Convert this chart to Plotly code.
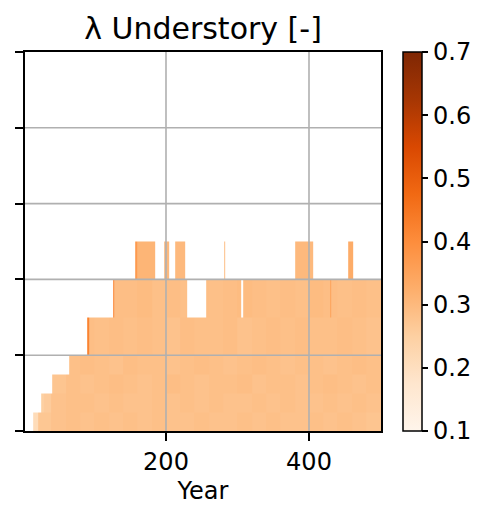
import numpy as np
import plotly.graph_objects as go

# ---------------- data ----------------
YEAR_START, YEAR_END = 3, 501            # year columns [YEAR_START, YEAR_END)
ROW_EDGES = [0, 1, 2, 3, 4, 6, 8, 10]    # layer edges (y units)
ROW_START_YEAR = [14, 26, 41, 64, 90, 126]
BLOCK_YEARS = 20
N = None
ROW_BLOCK_VALUES = [
    [0.21, 0.27, 0.28, 0.285, 0.28, 0.285, 0.28, 0.285, 0.28, 0.285, 0.28, 0.28, 0.285,
     0.28, 0.28, 0.285, 0.28, 0.285, 0.28, 0.28, 0.285, 0.28, 0.285, 0.28, 0.275],
    [N, 0.26, 0.28, 0.285, 0.285, 0.28, 0.285, 0.28, 0.28, 0.285, 0.28, 0.285, 0.28,
     0.285, 0.28, 0.28, 0.285, 0.28, 0.285, 0.28, 0.28, 0.285, 0.28, 0.285, 0.28],
    [N, N, 0.275, 0.285, 0.28, 0.285, 0.29, 0.285, 0.28, 0.285, 0.29, 0.285, 0.28,
     0.285, 0.285, 0.29, 0.28, 0.285, 0.285, 0.28, 0.285, 0.29, 0.285, 0.28, 0.285],
    [N, N, N, 0.285, 0.29, 0.285, 0.28, 0.29, 0.285, 0.285, 0.28, 0.285, 0.29,
     0.285, 0.28, 0.285, 0.29, 0.285, 0.28, 0.285, 0.285, 0.28, 0.285, 0.29, 0.285],
    [N, N, N, N, 0.29, 0.285, 0.29, 0.285, 0.29, 0.285, 0.28, 0.29, 0.285,
     0.285, 0.29, 0.28, 0.285, 0.29, 0.285, 0.29, 0.285, 0.285, 0.29, 0.285, 0.28],
    [N, N, N, N, N, N, 0.29, 0.29, 0.295, 0.285, 0.29, 0.285, 0.29,
     0.285, 0.29, 0.295, 0.29, 0.285, 0.29, 0.285, 0.295, 0.29, 0.285, 0.29, 0.285],
]
# (row, first year, last year exclusive, value)
ACCENTS = [(4, 90, 92, 0.42), (5, 126, 128, 0.42), (5, 429, 431, 0.35),
           (0, 14, 21, 0.21), (1, 26, 29, 0.25)]
TOP_ROW = 6
TOP_SEGMENTS = [(157, 160, 0.37), (160, 185, 0.31), (198, 205, 0.30), (213, 227, 0.30),
                (281, 283, 0.29), (380, 406, 0.30), (455, 462, 0.33)]
GAP_ROW = 5
GAPS = [(230, 256), (305, 308)]

X_TICKS = [200, 400]
Y_TICKS = [0, 4, 8, 12, 16, 20]
CBAR_TICKS = [0.1, 0.2, 0.3, 0.4, 0.5, 0.6, 0.7]

# ---------------- build grid ----------------
years = list(range(YEAR_START, YEAR_END + 1))
z = np.full((len(ROW_EDGES) - 1, YEAR_END - YEAR_START), np.nan)
for r, start in enumerate(ROW_START_YEAR):
    for yr in range(max(start, YEAR_START), YEAR_END):
        v = ROW_BLOCK_VALUES[r][min(yr // BLOCK_YEARS, len(ROW_BLOCK_VALUES[r]) - 1)]
        if v is not None:
            z[r, yr - YEAR_START] = v
for r, a, b, v in ACCENTS:
    z[r, a - YEAR_START:b - YEAR_START] = v
for a, b, v in TOP_SEGMENTS:
    z[TOP_ROW, a - YEAR_START:b - YEAR_START] = v
for a, b in GAPS:
    z[GAP_ROW, a - YEAR_START:b - YEAR_START] = np.nan

FONT = "DejaVu Sans"
fig = go.Figure(go.Heatmap(
    x=years, y=ROW_EDGES, z=z,
    colorscale="Oranges", zmin=0.1, zmax=0.7,
    hoverongaps=False,
    colorbar=dict(
        thickness=19, thicknessmode="pixels",
        len=1.0, lenmode="fraction", y=0.5, yanchor="middle",
        x=1.062, xanchor="left", xpad=0, ypad=0,
        outlinecolor="black", outlinewidth=1.5,
        tickvals=CBAR_TICKS, ticktext=[f"{t:.1f}" for t in CBAR_TICKS],
        ticks="outside", ticklen=6, tickwidth=1.5, tickcolor="black",
        tickfont=dict(family=FONT, size=24, color="black"),
    ),
))

shapes = []
for xv in X_TICKS:
    shapes.append(dict(type="line", xref="x", yref="paper", x0=xv, x1=xv, y0=0, y1=1,
                       line=dict(color="#b0b0b0", width=1.6), layer="above"))
for yv in Y_TICKS[1:-1]:
    shapes.append(dict(type="line", xref="paper", yref="y", x0=0, x1=1, y0=yv, y1=yv,
                       line=dict(color="#b0b0b0", width=1.6), layer="above"))

fig.update_layout(
    width=483, height=505,
    margin=dict(l=25, r=102, t=52, b=74, autoexpand=False),
    paper_bgcolor="white", plot_bgcolor="white",
    font=dict(family=FONT, color="black"),
    title=dict(text="λ Understory [-]", x=0.5, xref="paper", xanchor="center",
               y=1 - 28 / 505, yref="container", yanchor="middle",
               font=dict(family=FONT, size=30, color="black")),
    shapes=shapes,
    showlegend=False,
)
fig.update_xaxes(
    range=[YEAR_START - 0.2, YEAR_END - 0.3], tickvals=X_TICKS,
    showgrid=False, zeroline=False, automargin=False,
    showline=True, mirror=True, linecolor="black", linewidth=1.5,
    ticks="outside", ticklen=8, tickwidth=1.5, tickcolor="black",
    tickfont=dict(family=FONT, size=24, color="black"),
    title=dict(text="Year", font=dict(family=FONT, size=24, color="black"), standoff=12),
)
fig.update_yaxes(
    range=[0, 20], tickvals=Y_TICKS, showticklabels=False,
    showgrid=False, zeroline=False, automargin=False,
    showline=True, mirror=True, linecolor="black", linewidth=1.5,
    ticks="outside", ticklen=8, tickwidth=1.5, tickcolor="black",
)

fig.write_html("out.html")
